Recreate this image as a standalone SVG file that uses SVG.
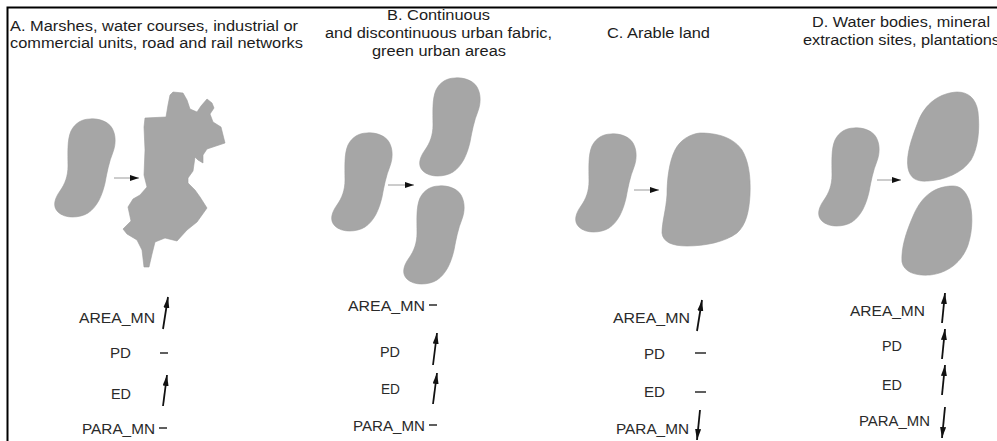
<svg xmlns="http://www.w3.org/2000/svg" xmlns:xlink="http://www.w3.org/1999/xlink" width="997" height="441" viewBox="0 0 997 441">
<style>
.shape{fill:#a6a6a6;stroke:#9c9c9c;stroke-width:0.6}
.title{font-family:"Liberation Sans",Arial,sans-serif;font-size:14px;fill:#1c1c1c}
.lbl{font-family:"Liberation Sans",Arial,sans-serif;font-size:15px;fill:#2a2a2a}
.flow{stroke:#9a9a9a;stroke-width:1;fill:none}
.ind{stroke:#111;stroke-width:1.8;fill:none}
.dash{stroke:#2a2a2a;stroke-width:1.5}
</style>
<defs>
<path id="blob" d="M90,119 C97,118 108,121 112,128 C116,135 116,144 113,152 C109,162 107,172 105,183 C102,196 97,207 88,213 C80,218 65,219 58,212 C52,206 55,198 60,191 C65,184 68,176 68,166 C68,154 67,140 71,131 C75,123 82,119 90,119 Z"/>
<marker id="head" markerUnits="userSpaceOnUse" markerWidth="10" markerHeight="7" refX="9" refY="3" orient="auto">
<path d="M0,0 L9,3 L0,6 Z" fill="#111"/>
</marker>
<marker id="ihead" markerUnits="userSpaceOnUse" markerWidth="12" markerHeight="7" refX="11" refY="3" orient="auto">
<path d="M0,0 L11,3 L0,6 Z" fill="#111"/>
</marker>
</defs>
<rect width="997" height="441" fill="#fff"/>
<path d="M7.5,441 V7.5 H997" fill="none" stroke="#000" stroke-width="2"/>

<g id="panel-a">
<text class="title" x="10" y="31" textLength="288" lengthAdjust="spacingAndGlyphs">A. Marshes, water courses, industrial or</text>
<text class="title" x="10" y="48" textLength="293" lengthAdjust="spacingAndGlyphs">commercial units, road and rail networks</text>
<g id="a-before"><use href="#blob" xlink:href="#blob" class="shape"/></g>
<g id="a-after"><polygon class="shape" points="173,92 183,93 187,100 190,109 197,112 201,106 207,99 212,103 214,108 210,114 213,122 221,127 225,143 216,146 207,149 203,155 203,163 198,160 195,157 193,171 188,178 188,183 195,190 200,197 207,208 197,222 187,230 177,241 165,238 155,242 152,254 149,267 144,267 142,250 137,240 127,234 123,229 131,221 128,207 133,199 140,195 147,187 144,175 145,150 144,127 145,118 166,117 168,105 170,95"/></g>
<g id="a-metrics">
<text class="lbl" x="79" y="323" textLength="76" lengthAdjust="spacingAndGlyphs">AREA_MN</text>
<text class="lbl" x="110" y="358" textLength="21" lengthAdjust="spacingAndGlyphs">PD</text>
<text class="lbl" x="111" y="399" textLength="20" lengthAdjust="spacingAndGlyphs">ED</text>
<text class="lbl" x="82" y="434" textLength="73" lengthAdjust="spacingAndGlyphs">PARA_MN</text>
<line class="ind" x1="163" y1="329" x2="168" y2="297" marker-end="url(#ihead)"/>
<line class="dash" x1="160" y1="353" x2="168" y2="353"/>
<line class="ind" x1="163" y1="406" x2="167" y2="375" marker-end="url(#ihead)"/>
<line class="dash" x1="159" y1="428" x2="167" y2="428"/>
</g>
</g>

<g id="panel-b">
<text class="title" x="387" y="20" textLength="103" lengthAdjust="spacingAndGlyphs">B. Continuous</text>
<text class="title" x="325" y="38" textLength="227" lengthAdjust="spacingAndGlyphs">and discontinuous urban fabric,</text>
<text class="title" x="372" y="56" textLength="134" lengthAdjust="spacingAndGlyphs">green urban areas</text>
<g id="b-before"><use href="#blob" xlink:href="#blob" class="shape" transform="translate(277,14)"/></g>
<g id="b-after-upper"><use href="#blob" xlink:href="#blob" class="shape" transform="translate(365,-41)"/></g>
<g id="b-after-lower"><use href="#blob" xlink:href="#blob" class="shape" transform="translate(349,67)"/></g>
<g id="b-metrics">
<text class="lbl" x="348" y="311" textLength="77" lengthAdjust="spacingAndGlyphs">AREA_MN</text>
<text class="lbl" x="380" y="357" textLength="20" lengthAdjust="spacingAndGlyphs">PD</text>
<text class="lbl" x="381" y="394" textLength="19" lengthAdjust="spacingAndGlyphs">ED</text>
<text class="lbl" x="353" y="431" textLength="72" lengthAdjust="spacingAndGlyphs">PARA_MN</text>
<line class="dash" x1="429" y1="305" x2="437" y2="305"/>
<line class="ind" x1="433" y1="365" x2="437" y2="333" marker-end="url(#ihead)"/>
<line class="ind" x1="433" y1="404" x2="437" y2="373" marker-end="url(#ihead)"/>
<line class="dash" x1="429" y1="425" x2="437" y2="425"/>
</g>
</g>

<g id="panel-c">
<text class="title" x="607" y="38" textLength="103" lengthAdjust="spacingAndGlyphs">C. Arable land</text>
<g id="c-before"><use href="#blob" xlink:href="#blob" class="shape" transform="translate(521,15)"/></g>
<g id="c-after"><path class="shape" d="M700,133 C690,134 680,140 675,150 C669,162 667,180 667,195 C666,210 662,222 662,233 C663,242 672,246 687,246 C705,246 725,242 737,233 C746,225 749,212 750,195 C751,175 748,160 742,150 C735,140 722,133 700,133 Z"/></g>
<g id="c-metrics">
<text class="lbl" x="613" y="323" textLength="77" lengthAdjust="spacingAndGlyphs">AREA_MN</text>
<text class="lbl" x="644" y="359" textLength="21" lengthAdjust="spacingAndGlyphs">PD</text>
<text class="lbl" x="644" y="397" textLength="21" lengthAdjust="spacingAndGlyphs">ED</text>
<text class="lbl" x="616" y="434" textLength="73" lengthAdjust="spacingAndGlyphs">PARA_MN</text>
<line class="ind" x1="697" y1="331" x2="702" y2="300" marker-end="url(#ihead)"/>
<line class="dash" x1="695" y1="353" x2="706" y2="353"/>
<line class="dash" x1="695" y1="392" x2="706" y2="392"/>
<line class="ind" x1="700" y1="410" x2="697" y2="440" marker-end="url(#ihead)"/>
</g>
</g>

<g id="panel-d">
<text class="title" x="812" y="27" textLength="178" lengthAdjust="spacingAndGlyphs">D. Water bodies, mineral</text>
<text class="title" x="803" y="45" textLength="197" lengthAdjust="spacingAndGlyphs">extraction sites, plantations</text>
<g id="d-before"><use href="#blob" xlink:href="#blob" class="shape" transform="translate(764,9)"/></g>
<g id="d-after-upper"><path class="shape" d="M957,92 C940,93 925,103 918,122 C911,140 906,155 908,168 C910,178 916,182 928,181 C945,180 962,173 971,160 C978,148 980,130 978,112 C976,98 968,92 957,92 Z"/></g>
<g id="d-after-lower"><path class="shape" d="M953,186 C935,186 922,196 914,214 C906,232 901,248 902,262 C904,272 915,276 930,275 C948,273 962,262 968,245 C973,230 973,212 969,200 C965,190 960,186 953,186 Z"/></g>
<g id="d-metrics">
<text class="lbl" x="850" y="316" textLength="75" lengthAdjust="spacingAndGlyphs">AREA_MN</text>
<text class="lbl" x="882" y="351" textLength="20" lengthAdjust="spacingAndGlyphs">PD</text>
<text class="lbl" x="882" y="390" textLength="20" lengthAdjust="spacingAndGlyphs">ED</text>
<text class="lbl" x="859" y="426" textLength="71" lengthAdjust="spacingAndGlyphs">PARA_MN</text>
<line class="ind" x1="942" y1="323" x2="945" y2="293" marker-end="url(#ihead)"/>
<line class="ind" x1="942" y1="359" x2="945" y2="329" marker-end="url(#ihead)"/>
<line class="ind" x1="942" y1="395" x2="945" y2="365" marker-end="url(#ihead)"/>
<line class="ind" x1="945" y1="407" x2="942" y2="438" marker-end="url(#ihead)"/>
</g>
</g>

<g id="connectors">
<line class="flow" x1="114" y1="178" x2="139" y2="178" marker-end="url(#head)"/>
<line class="flow" x1="388" y1="185" x2="414" y2="185" marker-end="url(#head)"/>
<line class="flow" x1="634" y1="190" x2="659" y2="190" marker-end="url(#head)"/>
<line class="flow" x1="877" y1="180" x2="901" y2="180" marker-end="url(#head)"/>
</g>
</svg>
